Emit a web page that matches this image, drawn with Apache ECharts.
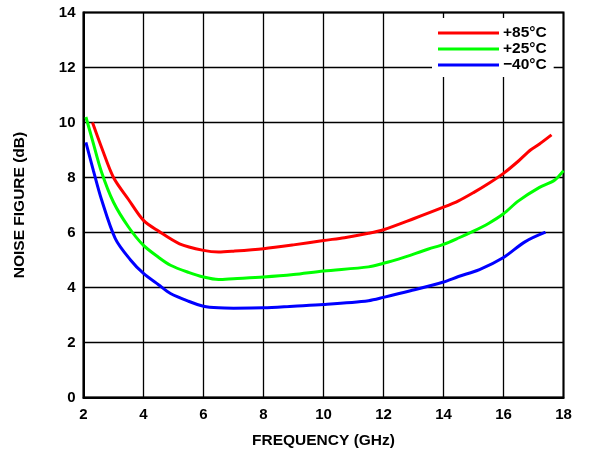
<!DOCTYPE html>
<html>
<head>
<meta charset="utf-8">
<script src="https://cdn.jsdelivr.net/npm/echarts@6/dist/echarts.min.js"></script>
<style>
html,body{margin:0;padding:0;background:#fff;}
#chart{width:589px;height:449px;}
</style>
</head>
<body>
<div id="chart"></div>
<script>
// Tick settings
var xTicks = [2, 4, 6, 8, 10, 12, 14, 16, 18];
var yTicks = [0, 2, 4, 6, 8, 10, 12, 14];

// +85°C
var freq85 = [2.3, 2.6, 3.0, 3.5, 4.0, 4.5, 5.2, 6.0, 6.5, 7.0, 8.0, 9.0, 10.0, 10.7, 11.5, 12.0, 13.0, 14.0, 14.5, 15.0, 15.5, 16.0, 16.5, 16.9, 17.2, 17.6];
var nf85   = [10.0, 9.1, 8.0, 7.2, 6.44, 6.05, 5.59, 5.35, 5.29, 5.32, 5.41, 5.55, 5.71, 5.81, 5.97, 6.1, 6.5, 6.92, 7.15, 7.45, 7.78, 8.15, 8.6, 9.0, 9.22, 9.55];

// +25°C
var freq25 = [2.08, 2.3, 2.6, 3.0, 3.5, 4.0, 4.5, 4.9, 5.5, 6.0, 6.5, 7.0, 8.0, 9.0, 10.0, 11.5, 12.0, 12.5, 13.5, 14.0, 14.5, 15.0, 15.5, 16.0, 16.5, 17.2, 17.7, 18.0];
var nf25   = [10.2, 9.35, 8.2, 7.1, 6.2, 5.53, 5.1, 4.81, 4.55, 4.38, 4.29, 4.32, 4.38, 4.47, 4.6, 4.75, 4.88, 5.03, 5.4, 5.57, 5.8, 6.05, 6.33, 6.68, 7.15, 7.64, 7.9, 8.25];

// -40°C
var freqM40 = [2.08, 2.33, 2.6, 3.06, 3.56, 4.0, 4.5, 4.9, 5.5, 6.0, 6.5, 7.0, 8.0, 9.0, 10.0, 11.5, 12.0, 12.9, 14.0, 14.5, 15.2, 16.0, 16.7, 17.4];
var nfM40   = [9.28, 8.25, 7.2, 5.78, 5.01, 4.51, 4.1, 3.78, 3.5, 3.32, 3.26, 3.25, 3.26, 3.32, 3.38, 3.52, 3.64, 3.88, 4.2, 4.4, 4.65, 5.09, 5.65, 6.01];

var seriesNames = ['+85°C', '+25°C', '\u221240°C'];
var seriesColors = ['#ff0000', '#00ff00', '#0000ff'];

function pairs(xs, ys) { return xs.map(function (x, i) { return [x, ys[i]]; }); }
var datasets = [pairs(freq85, nf85), pairs(freq25, nf25), pairs(freqM40, nfM40)];

var font = 'Arial, "Liberation Sans", sans-serif';
var chart = echarts.init(document.getElementById('chart'), null, {renderer: 'canvas'});
chart.setOption({
  animation: false,
  backgroundColor: '#fff',
  grid: {left: 83.5, right: 25.5, top: 12.5, bottom: 51.5, containLabel: false, outerBoundsMode: 'none',
         show: true, borderColor: '#000', borderWidth: 2, backgroundColor: 'transparent'},
  legend: {
    orient: 'vertical', left: 432, top: 18,
    padding: [7, 7, 4, 6], itemGap: 0,
    itemWidth: 61, itemHeight: 3,
    icon: 'rect',
    backgroundColor: '#fff',
    textStyle: {fontFamily: font, fontWeight: 'bold', fontSize: 15.5, color: '#000', lineHeight: 15.5, padding: [0, 0, 0, -1]},
    data: seriesNames
  },
  xAxis: {
    type: 'value', min: xTicks[0], max: xTicks[xTicks.length - 1], interval: xTicks[1] - xTicks[0],
    name: 'FREQUENCY (GHz)', nameLocation: 'middle', nameGap: 35,
    nameTextStyle: {fontFamily: font, fontWeight: 'bold', fontSize: 15.5, color: '#000'},
    axisLine: {show: true, lineStyle: {color: '#000', width: 2}},
    axisTick: {show: false},
    axisLabel: {fontFamily: font, fontWeight: 'bold', fontSize: 15, color: '#000', margin: 10},
    splitLine: {show: true, lineStyle: {color: '#000', width: 1.3}}
  },
  yAxis: {
    type: 'value', min: yTicks[0], max: yTicks[yTicks.length - 1], interval: yTicks[1] - yTicks[0],
    name: 'NOISE FIGURE (dB)', nameLocation: 'middle', nameGap: 56,
    nameTextStyle: {fontFamily: font, fontWeight: 'bold', fontSize: 15.5, color: '#000'},
    axisLine: {show: true, lineStyle: {color: '#000', width: 2}},
    axisTick: {show: false},
    axisLabel: {fontFamily: font, fontWeight: 'bold', fontSize: 15, color: '#000', margin: 8},
    splitLine: {show: true, lineStyle: {color: '#000', width: 1.3}}
  },
  series: seriesNames.map(function (n, i) {
    return {
      name: n, type: 'line', data: datasets[i], smooth: 0.3,
      showSymbol: false, symbol: 'none',
      lineStyle: {color: seriesColors[i], width: 3},
      itemStyle: {color: seriesColors[i]},
      z: 2
    };
  })
});
</script>
</body>
</html>
